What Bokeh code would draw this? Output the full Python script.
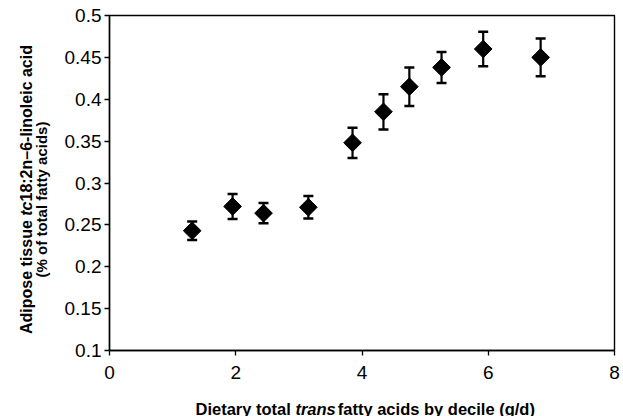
import math
from bokeh.plotting import figure
from bokeh.layouts import column, row
from bokeh.models import ColumnDataSource, Whisker, FixedTicker, Range1d, TeeHead
from bokeh.core.properties import value
from bokeh.embed import file_html
from bokeh.resources import INLINE

# ---- data ----
decile_trans_g = [1.31, 1.95, 2.44, 3.15, 3.85, 4.34, 4.75, 5.26, 5.92, 6.83]
linoleic_pct = [0.243, 0.272, 0.264, 0.271, 0.348, 0.385, 0.415, 0.438, 0.460, 0.450]
linoleic_err = [0.011, 0.015, 0.012, 0.0135, 0.018, 0.021, 0.023, 0.0185, 0.0205, 0.0225]
x_ticks = [0, 2, 4, 6, 8]
y_ticks = [0.1, 0.15, 0.2, 0.25, 0.3, 0.35, 0.4, 0.45, 0.5]
y_tick_labels = ["0.1", "0.15", "0.2", "0.25", "0.3", "0.35", "0.4", "0.45", "0.5"]

# ---- layout geometry (page pixels) ----
W, H = 623, 416
YT_W = 55            # strip for the y-axis title
XT_H = 30            # strip for the x-axis title
MW, MH = W - YT_W, H - XT_H
FL, FT, FR = 109 - YT_W, 15, W - 614
FB = MH - 350

src = ColumnDataSource(dict(
    x=decile_trans_g,
    y=linoleic_pct,
    lo=[v - e for v, e in zip(linoleic_pct, linoleic_err)],
    hi=[v + e for v, e in zip(linoleic_pct, linoleic_err)],
))

p = figure(width=MW, height=MH, output_backend="svg", toolbar_location=None, title=None,
           x_range=Range1d(0, 8), y_range=Range1d(0.1, 0.5),
           min_border_left=FL, min_border_top=FT, min_border_right=FR, min_border_bottom=FB)
p.background_fill_color = "white"
p.border_fill_color = "white"
p.outline_line_color = "black"
p.outline_line_width = 1.4
p.xgrid.visible = False
p.ygrid.visible = False

for ax in (p.xaxis[0], p.yaxis[0]):
    ax.axis_line_color = "black"
    ax.axis_line_width = 1.4
    ax.major_tick_line_color = "black"
    ax.major_tick_line_width = 1.3
    ax.major_tick_in = 0
    ax.major_tick_out = 5
    ax.minor_tick_line_color = None
    ax.major_label_text_font = "Liberation Sans"
    ax.major_label_text_font_size = "19px"
    ax.major_label_text_color = "black"

p.xaxis[0].ticker = FixedTicker(ticks=x_ticks)
p.yaxis[0].ticker = FixedTicker(ticks=y_ticks)
p.yaxis[0].major_label_overrides = {t: l for t, l in zip(y_ticks, y_tick_labels)}
p.xaxis[0].major_label_standoff = 10
p.yaxis[0].major_label_standoff = 3

whisker = Whisker(source=src, base="x", lower="lo", upper="hi",
                  line_color="black", line_width=2.2,
                  lower_head=TeeHead(size=10, line_color="black", line_width=2.5),
                  upper_head=TeeHead(size=10, line_color="black", line_width=2.5))
p.add_layout(whisker)

p.scatter("x", "y", source=src, marker="square", size=12.5, angle=math.pi / 4,
          fill_color="black", line_color="black")


def strip(w, h, bt=0, bb=0):
    # data coordinates of a strip = page pixels (x to the right, y = h - page y)
    f = figure(width=w, height=h, output_backend="svg", toolbar_location=None, title=None,
               x_range=Range1d(0, w), y_range=Range1d(bb, h - bt),
               min_border_left=0, min_border_right=0, min_border_top=bt, min_border_bottom=bb,
               x_axis_location=None, y_axis_location=None)
    f.outline_line_color = None
    f.background_fill_color = "white"
    f.border_fill_color = "white"
    f.xgrid.visible = False
    f.ygrid.visible = False
    return f


font = value("Liberation Sans")

# ---- y-axis title (left strip) ----
FS = 16
em = FS / 1000.0
yf = strip(YT_W, MH, FT, FB)
yt_parts = [("Adipose tissue ", "bold", 7391), ("tc", "bold italic", 889),
            ("18:2n\u20136-linoleic acid", "bold", 9782)]
total = sum(w for _, _, w in yt_parts) * em
sy = 189 + total / 2          # page y of the start (bottom) of line 1
for txt, style, w in yt_parts:
    yf.text(x=[26], y=[MH - sy], text=[txt], angle=math.pi / 2,
            text_font=font, text_font_size=f"{FS}px",
            text_font_style=style, text_color="black",
            text_align="left", text_baseline="alphabetic")
    sy -= w * em

FS2 = 15
w2 = 10390 * FS2 / 1000.0
yf.text(x=[41], y=[MH - (199 + w2 / 2)], text=["(% of total fatty acids)"], angle=math.pi / 2,
        text_font=font, text_font_size=f"{FS2}px",
        text_font_style="bold", text_color="black",
        text_align="left", text_baseline="alphabetic")

# ---- x-axis title (bottom strip) ----
FS3 = 16.5
em3 = FS3 / 1000.0
xf = strip(W, XT_H)
xt_parts = [("Dietary total ", "bold", 6057), ("trans", "bold italic", 2445),
            (" fatty acids by decile (g/d)", "bold", 12226)]
total = sum(w for _, _, w in xt_parts) * em3
sx = 366 - total / 2
for txt, style, w in xt_parts:
    xf.text(x=[sx], y=[XT_H - (408 - MH)], text=[txt], text_font=font,
            text_font_size=f"{FS3}px", text_font_style=style, text_color="black",
            text_align="left", text_baseline="alphabetic")
    sx += w * em3 + (2 if style == "bold italic" else 0)

layout = column(row(yf, p, spacing=0), xf, spacing=0)
open("out.html", "w").write(file_html(layout, INLINE))
